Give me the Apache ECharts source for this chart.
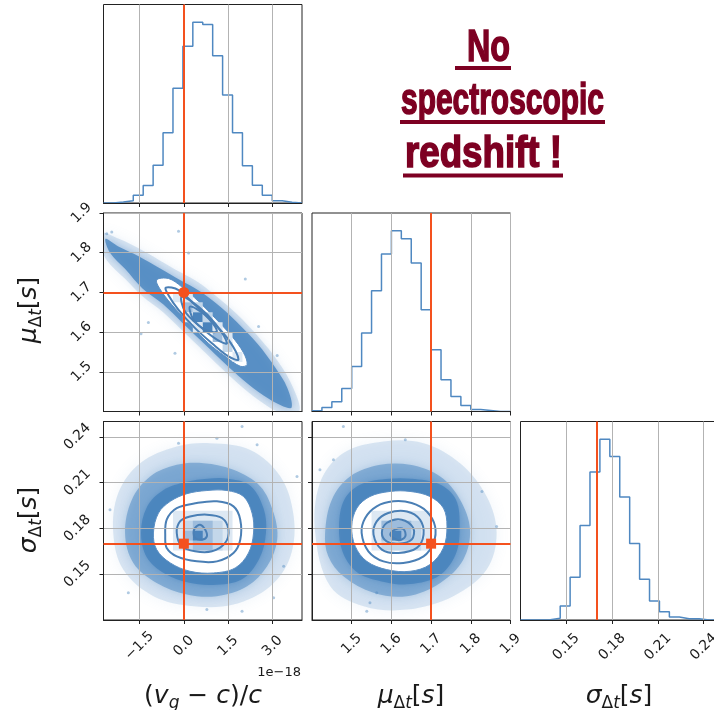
<!DOCTYPE html>
<html>
<head>
<meta charset="utf-8">
<script src="https://cdn.jsdelivr.net/npm/echarts@6/dist/echarts.min.js"></script>
<style>
  html, body { margin: 0; padding: 0; background: #ffffff; }
  #c { width: 714px; height: 710px; }
</style>
</head>
<body>
<div id="c"></div>
<script>
// ---------------- parameter ranges and ticks ----------------
const vRange = [-2.72, 4.0];          // (v_g - c)/c, in units of 1e-18
const muRange = [1.40, 1.90];         // mu_dt [s]
const sigRange = [0.12, 0.25];        // sigma_dt [s]
const vTicks = [-1.5, 0.0, 1.5, 3.0];
const muTicks = [1.5, 1.6, 1.7, 1.8, 1.9];
const sigTicks = [0.15, 0.18, 0.21, 0.24];

// injected (true) values
const truthV = 0.0;
const truthMu = 1.7;
const truthSig = 0.17;

// ---------------- 1D marginal histograms (20 bins each) ----------------
const vEdges = [-2.72, -2.384, -2.048, -1.712, -1.376, -1.04, -0.704, -0.368, -0.032, 0.304,
                0.64, 0.976, 1.312, 1.648, 1.984, 2.32, 2.656, 2.992, 3.328, 3.664, 4.0];
const vCounts = [0, 3, 7, 23, 52, 113, 210, 343, 468, 540, 533, 440, 323, 210, 111, 53, 23, 7, 2, 0];
const vHistTop = 593;

const muEdges = [1.400, 1.425, 1.450, 1.475, 1.500, 1.525, 1.550, 1.575, 1.600, 1.625,
                 1.650, 1.675, 1.700, 1.725, 1.750, 1.775, 1.800, 1.825, 1.850, 1.875, 1.900];
const muCounts = [2, 12, 29, 69, 135, 235, 362, 472, 542, 518, 445, 305, 185, 95, 45, 18, 6, 3, 0, 0];
const muHistTop = 595;

const sigEdges = [0.1200, 0.1265, 0.1330, 0.1395, 0.1460, 0.1525, 0.1590, 0.1655, 0.1720, 0.1785,
                  0.1850, 0.1915, 0.1980, 0.2045, 0.2110, 0.2175, 0.2240, 0.2305, 0.2370, 0.2435, 0.2500];
const sigCounts = [0, 0, 0.5, 5, 42, 128, 283, 444, 542, 490, 369, 229, 122, 57, 25, 9, 4, 4, 0, 0];
const sigHistTop = 595;

// ---------------- 2D panel: v vs mu ----------------
const haloVMu = [[-2.8,1.85],[-2.2,1.835],[-1.5,1.81],[-0.8,1.78],[-0.1,1.75],[0.5,1.725],[1.1,1.69],
  [1.8,1.645],[2.5,1.59],[3.2,1.525],[3.7,1.46],[3.9,1.40],[3.2,1.40],[2.7,1.42],[2.0,1.46],[1.4,1.50],
  [0.7,1.55],[0.0,1.60],[-0.7,1.65],[-1.4,1.69],[-2.0,1.735],[-2.6,1.78],[-2.8,1.815]];
const coreVMu = [[-2.65,1.835],[-2.2,1.815],[-1.5,1.79],[-0.8,1.76],[-0.1,1.73],[0.5,1.705],[1.1,1.672],
  [1.8,1.625],[2.5,1.57],[3.1,1.51],[3.5,1.46],[3.65,1.41],[3.3,1.415],[2.7,1.44],[2.0,1.48],[1.4,1.52],
  [0.7,1.57],[0.0,1.62],[-0.7,1.67],[-1.4,1.71],[-2.0,1.76],[-2.5,1.80]];
const whiteVMu = [[-0.92,1.731],[-0.52,1.735],[-0.07,1.714],[0.5,1.677],[1.06,1.635],[1.63,1.589],
  [2.02,1.548],[2.14,1.518],[1.91,1.514],[1.40,1.539],[0.83,1.572],[0.27,1.614],[-0.30,1.66],[-0.75,1.702]];
const cellsVMu = [ // [v0, v1, mu0, mu1, level]
  [-0.368,-0.032,1.675,1.700,1], [-0.032,0.304,1.675,1.700,1], [-0.032,0.304,1.650,1.675,3],
  [0.304,0.640,1.650,1.675,2], [-0.032,0.304,1.625,1.650,1], [0.304,0.640,1.625,1.650,4],
  [0.640,0.976,1.625,1.650,2], [0.304,0.640,1.600,1.625,1], [0.640,0.976,1.600,1.625,4],
  [0.976,1.312,1.600,1.625,1], [0.976,1.312,1.575,1.600,3], [1.312,1.648,1.575,1.600,1],
  [1.312,1.648,1.550,1.575,2], [1.648,1.984,1.525,1.550,1]];
const contoursVMu = [
  [[-0.61,1.712],[-0.18,1.706],[0.38,1.668],[0.95,1.627],[1.51,1.581],[1.85,1.531],[1.51,1.539],
   [0.95,1.572],[0.38,1.61],[-0.18,1.656],[-0.52,1.693]],
  [[-0.07,1.689],[0.5,1.664],[1.06,1.622],[1.46,1.572],[1.12,1.581],[0.55,1.614],[0.04,1.652]],
  [[0.21,1.664],[0.72,1.643],[1.12,1.602],[0.72,1.606],[0.33,1.631]]];
const strayVMu = [[-2.44,1.852],[-0.18,1.854],[-1.45,1.596],[-0.30,1.547],[0.16,1.799],[2.53,1.614],
  [2.08,1.734],[3.16,1.541],[-1.2,1.624],[-2.61,1.848]];

// ---------------- 2D panel: v vs sigma ----------------
const haloVSig = [[-2.39,0.177],[-2.22,0.2031],[-1.48,0.2227],[-0.24,0.2336],[0.89,0.2358],[2.25,0.2314],
  [3.27,0.214],[3.72,0.1878],[3.61,0.1617],[2.93,0.1421],[1.68,0.1301],[0.33,0.129],[-1.03,0.1356],[-2.05,0.153]];
const coreVSig = [[-1.99,0.177],[-1.76,0.1988],[-1.14,0.214],[-0.24,0.2216],[0.67,0.2227],[1.68,0.2184],
  [2.59,0.2075],[3.04,0.19],[3.16,0.1726],[2.82,0.1552],[2.14,0.1421],[1.12,0.1356],[0.10,0.1367],
  [-0.92,0.1443],[-1.71,0.1574]];
const innerVSig = [[-1.45,0.177],[-1.25,0.194],[-0.7,0.205],[0.1,0.2105],[0.8,0.2125],[1.5,0.2125],
  [2.25,0.208],[2.7,0.193],[2.78,0.177],[2.55,0.16],[1.95,0.1465],[1.0,0.143],[0.15,0.1445],
  [-0.65,0.1505],[-1.25,0.161]];
const whiteVSig = [[-1.03,0.177],[-0.86,0.19],[-0.46,0.1977],[0.10,0.2027],[0.78,0.2048],[1.46,0.2048],
  [2.02,0.2009],[2.31,0.19],[2.36,0.177],[2.19,0.1639],[1.74,0.1541],[1.0,0.1508],[0.21,0.1519],
  [-0.46,0.1574],[-0.92,0.1661]];
const cellsVSig = [
  [-0.368,1.648,0.1655,0.1915,1], [-0.032,1.312,0.1655,0.1850,2],
  [0.304,0.976,0.1655,0.1850,3], [-0.032,0.304,0.1720,0.1785,3], [0.304,0.640,0.1720,0.1785,4]];
const contoursVSig = [
  [[-0.63,0.1748],[-0.58,0.1857],[-0.24,0.1933],[0.44,0.1966],[1.12,0.1977],[1.68,0.1944],[1.91,0.1857],
   [1.91,0.1726],[1.68,0.1639],[1.12,0.1584],[0.44,0.1584],[-0.24,0.1617],[-0.58,0.1672]],
  [[-0.24,0.177],[-0.13,0.1846],[0.21,0.1878],[0.78,0.189],[1.29,0.1868],[1.51,0.1792],[1.40,0.1705],
   [0.95,0.165],[0.38,0.165],[-0.07,0.1682]],
  [[0.33,0.177],[0.38,0.1803],[0.55,0.1824],[0.72,0.1792],[0.78,0.1748],[0.61,0.1726],[0.38,0.1737]]];
const strayVSig = [[-0.18,0.2358],[1.12,0.2391],[1.97,0.2467],[2.48,0.2347],[-1.88,0.1378],[1.97,0.1257],
  [0.78,0.1268],[3.83,0.214],[3.38,0.1552],[-2.5,0.1922],[3.04,0.1345]];

// ---------------- 2D panel: mu vs sigma ----------------
const haloMuSig = [[1.408,0.177],[1.420,0.2097],[1.479,0.2293],[1.580,0.2369],[1.681,0.2358],[1.773,0.2227],
  [1.840,0.2009],[1.865,0.177],[1.840,0.153],[1.756,0.1356],[1.639,0.1268],[1.530,0.129],[1.446,0.1421]];
const coreMuSig = [[1.433,0.177],[1.450,0.1988],[1.496,0.214],[1.572,0.2216],[1.647,0.2216],[1.723,0.214],
  [1.773,0.1988],[1.798,0.1792],[1.781,0.1595],[1.723,0.1443],[1.639,0.1356],[1.555,0.1378],
  [1.479,0.1486],[1.441,0.1617]];
const innerMuSig = [[1.468,0.1813],[1.482,0.199],[1.525,0.209],[1.595,0.2125],[1.65,0.2125],[1.72,0.209],
  [1.762,0.199],[1.772,0.1813],[1.762,0.163],[1.72,0.149],[1.647,0.1435],[1.585,0.1448],[1.515,0.151],
  [1.478,0.164]];
const whiteMuSig = [[1.500,0.1813],[1.513,0.1933],[1.546,0.2009],[1.597,0.2042],[1.647,0.2042],[1.697,0.2009],
  [1.731,0.1933],[1.740,0.1813],[1.731,0.1672],[1.697,0.1563],[1.647,0.1519],[1.588,0.1530],
  [1.538,0.1584],[1.509,0.1682]];
const cellsMuSig = [
  [1.550,1.700,0.1655,0.1915,1], [1.575,1.675,0.1655,0.1850,2],
  [1.575,1.650,0.1720,0.1850,3], [1.600,1.625,0.1720,0.1785,4]];
const contoursMuSig = [
  [[1.525,0.177],[1.534,0.1868],[1.563,0.1944],[1.605,0.1977],[1.651,0.1966],[1.689,0.1911],[1.710,0.1813],
   [1.706,0.1705],[1.681,0.1617],[1.630,0.1574],[1.580,0.1584],[1.542,0.165]],
  [[1.555,0.1759],[1.563,0.1846],[1.592,0.1901],[1.639,0.1911],[1.672,0.1857],[1.681,0.1759],
   [1.664,0.1672],[1.618,0.1639],[1.576,0.1661]],
  [[1.576,0.177],[1.588,0.1835],[1.626,0.1857],[1.655,0.1803],[1.651,0.1726],[1.618,0.170],[1.588,0.1715]],
  [[1.597,0.1759],[1.609,0.1792],[1.630,0.1796],[1.635,0.1748],[1.618,0.1722]]];
const strayMuSig = [[1.479,0.2467],[1.635,0.2380],[1.546,0.1313],[1.538,0.1257],[1.865,0.1813],
  [1.828,0.2042],[1.420,0.2184],[1.563,0.1378],[1.454,0.2249]];

// ---------------- styling ----------------
const INK = '#1a1a1a';
const HIST_BLUE = '#4f88c1';
const CONTOUR_BLUE = '#4a7fb5';
const ORANGE = '#f4511e';
const SHADES = [null, '#dde8f3', '#c3d7ea', '#9dbcdc', '#4a83bc'];
const TICK_FONT = 'DejaVu Sans';

const fmtV = v => (Math.abs(v) < 1e-9 ? 0 : v).toFixed(1).replace('-', '\u2212');
const fmtMu = v => v.toFixed(1);
const fmtSig = v => v.toFixed(2);

// panel layout: 3x3 lower-triangular corner arrangement
const PANEL = 198.5;
const COLS = [103.5, 312, 520.5];
const ROWS = [4.5, 213, 421.5];
function gridAt(r, c) {
  return { left: COLS[c], top: ROWS[r], width: PANEL, height: PANEL, show: true,
           borderColor: '#222', borderWidth: 1, backgroundColor: 'transparent',
           containLabel: false, outerBoundsMode: 'none' };
}
const grids = [gridAt(0,0), gridAt(1,0), gridAt(1,1), gridAt(2,0), gridAt(2,1), gridAt(2,2)];

function tickLabel(show, fmt, margin) {
  return { show: show, formatter: fmt, rotate: 45, align: 'center', verticalAlign: 'middle',
           margin: margin, fontSize: 14, fontFamily: TICK_FONT, color: INK };
}
function valueAxis(g, range, ticks, fmt, showLabels, showGrid, margin) {
  const lbl = tickLabel(showLabels, fmt, margin);
  lbl.customValues = ticks;
  return {
    type: 'value', gridIndex: g, min: range[0], max: range[1], z: 3,
    axisLine: { show: true, onZero: false, lineStyle: { color: '#222', width: 1 } },
    axisTick: { show: true, length: 4, customValues: ticks, lineStyle: { color: '#222', width: 1 } },
    axisLabel: lbl,
    splitLine: { show: showGrid, lineStyle: { color: '#b3b3b3', width: 1 } },
    axisPointer: { show: false }
  };
}
function countAxis(g, top) {
  return { type: 'value', gridIndex: g, min: 0, max: top, show: false, splitLine: { show: false } };
}

const xAxes = [
  valueAxis(0, vRange, vTicks, fmtV, false, true, 26),
  valueAxis(1, vRange, vTicks, fmtV, false, true, 26),
  valueAxis(2, muRange, muTicks, fmtMu, false, true, 26),
  valueAxis(3, vRange, vTicks, fmtV, true, true, 26),
  valueAxis(4, muRange, muTicks, fmtMu, true, true, 24),
  valueAxis(5, sigRange, sigTicks, fmtSig, true, true, 27)
];
const yAxes = [
  countAxis(0, vHistTop),
  valueAxis(1, muRange, muTicks, fmtMu, true, true, 22),
  countAxis(2, muHistTop),
  valueAxis(3, sigRange, sigTicks, fmtSig, true, true, 26),
  valueAxis(4, sigRange, sigTicks, fmtSig, false, true, 26),
  countAxis(5, sigHistTop)
];

// ---------------- series builders ----------------
function histSeries(g, edges, counts) {
  const pts = edges.map((e, i) => [e, counts[Math.min(i, counts.length - 1)]]);
  return { type: 'line', xAxisIndex: g, yAxisIndex: g, data: pts, step: 'end', symbol: 'none',
           silent: true, z: 2, lineStyle: { color: HIST_BLUE, width: 1.5 } };
}
function areaSeries(g, verts, style, smooth) {
  return {
    type: 'custom', xAxisIndex: g, yAxisIndex: g, data: verts, clip: true, silent: true, z: 2,
    renderItem: function (params, api) {
      if (params.dataIndex !== 0) return null;
      const pts = verts.map(p => api.coord(p));
      return { type: 'polygon', shape: { points: pts, smooth: smooth }, style: style };
    }
  };
}
function cellSeries(g, cells) {
  return {
    type: 'custom', xAxisIndex: g, yAxisIndex: g, data: cells, clip: true, silent: true, z: 2,
    encode: { x: [0, 1], y: [2, 3] },
    renderItem: function (params, api) {
      const a = api.coord([api.value(0), api.value(3)]);
      const b = api.coord([api.value(1), api.value(2)]);
      return { type: 'rect', shape: { x: a[0], y: a[1], width: b[0] - a[0], height: b[1] - a[1] },
               style: { fill: SHADES[api.value(4)] } };
    }
  };
}
function contourSeries(g, loops) {
  return loops.map(loop => areaSeries(g, loop, { fill: 'none', stroke: CONTOUR_BLUE, lineWidth: 2 }, 0.35));
}
function straySeries(g, pts) {
  return { type: 'scatter', xAxisIndex: g, yAxisIndex: g, data: pts, symbolSize: 3, silent: true, z: 2,
           itemStyle: { color: 'rgba(74,134,190,0.55)' } };
}
function truthSeries(g, point, symbol, size, vLine, hLine) {
  const lines = [];
  if (vLine !== null) lines.push({ xAxis: vLine });
  if (hLine !== null) lines.push({ yAxis: hLine });
  return {
    type: 'scatter', xAxisIndex: g, yAxisIndex: g, data: point ? [point] : [], symbol: symbol,
    symbolSize: size, silent: true, z: 5, itemStyle: { color: ORANGE, opacity: 1 },
    markLine: { silent: true, symbol: 'none', animation: false, label: { show: false },
                lineStyle: { color: ORANGE, width: 2, type: 'solid', opacity: 1 }, data: lines }
  };
}
// sample cloud: faint outer fringe, dense body, optional denser ring, white interior
function scatterPanel(g, halo, core, coreAlpha, inner, white, cells, loops, stray) {
  const out = [];
  out.push(areaSeries(g, halo, { fill: 'rgba(100,152,206,0.22)', shadowBlur: 14,
                                 shadowColor: 'rgba(100,152,206,0.45)' }, 0.35));
  out.push(areaSeries(g, core, { fill: 'rgba(74,134,192,' + coreAlpha + ')', shadowBlur: 9,
                                 shadowColor: 'rgba(74,134,192,0.55)' }, 0.35));
  if (inner) out.push(areaSeries(g, inner, { fill: 'rgba(70,130,188,0.8)', shadowBlur: 5,
                                             shadowColor: 'rgba(70,130,188,0.6)' }, 0.35));
  out.push(areaSeries(g, white, { fill: '#ffffff', stroke: '#5b8fc4', lineWidth: 1 }, 0.35));
  out.push(cellSeries(g, cells));
  return out.concat(contourSeries(g, loops), [straySeries(g, stray)]);
}

const series = [].concat(
  [histSeries(0, vEdges, vCounts), truthSeries(0, null, 'none', 0, truthV, null)],
  scatterPanel(1, haloVMu, coreVMu, 0.82, null, whiteVMu, cellsVMu, contoursVMu, strayVMu),
  [truthSeries(1, [truthV, truthMu], 'circle', 11, truthV, truthMu)],
  [histSeries(2, muEdges, muCounts), truthSeries(2, null, 'none', 0, truthMu, null)],
  scatterPanel(3, haloVSig, coreVSig, 0.5, innerVSig, whiteVSig, cellsVSig, contoursVSig, strayVSig),
  [truthSeries(3, [truthV, truthSig], 'rect', 10, truthV, truthSig)],
  scatterPanel(4, haloMuSig, coreMuSig, 0.5, innerMuSig, whiteMuSig, cellsMuSig, contoursMuSig, strayMuSig),
  [truthSeries(4, [truthMu, truthSig], 'rect', 10, truthMu, truthSig)],
  [histSeries(5, sigEdges, sigCounts), truthSeries(5, null, 'none', 0, truthSig, null)]
);

// ---------------- text: axis titles, offset, headline ----------------
const MATH = 'DejaVu Sans';
const rich = {
  n: { fontFamily: MATH, fontSize: 25, fill: INK },
  i: { fontFamily: MATH, fontSize: 25, fontStyle: 'italic', fill: INK },
  s: { fontFamily: MATH, fontSize: 17, fontStyle: 'italic', fill: INK, padding: [16, 0, 0, 0] },
  u: { fontFamily: MATH, fontSize: 17, fill: INK, padding: [16, 0, 0, 0] }
};
const vTitle = '{n|(}{i|v}{s|g}{n| \u2212 }{i|c}{n|)/}{i|c}';
const muTitle = '{i|\u03bc}{u|\u0394}{s|t}{n|[}{i|s}{n|]}';
const sigTitle = '{i|\u03c3}{u|\u0394}{s|t}{n|[}{i|s}{n|]}';

function mathText(str, x, y, rot) {
  return { type: 'text', x: x, y: y, rotation: rot || 0, silent: true,
           style: { text: str, rich: rich, align: 'center', verticalAlign: 'middle' } };
}

const HEAD_COLOR = '#7d0022';
const HEAD_SIZE = 45;
const HEAD_FONT = 'bold ' + HEAD_SIZE + 'px "Liberation Sans Narrow", "Liberation Sans", "DejaVu Sans Condensed", sans-serif';
const headLines = [
  { text: 'No',            left: 467, right: 510, base: 63,  ul: [455, 511, 66] },
  { text: 'spectroscopic', left: 401, right: 604, base: 116, ul: [400, 605, 120] },
  { text: 'redshift !',    left: 405, right: 562, base: 169, ul: [403, 563, 173.5] }
];
const measureCtx = document.createElement('canvas').getContext('2d');
function widthScale(text, target) {
  measureCtx.font = HEAD_FONT;
  const w = measureCtx.measureText(text).width;
  return w > 0 ? target / w : 1;
}
const headGraphics = [];
headLines.forEach(l => {
  headGraphics.push({
    type: 'text', x: l.left, y: l.base - 0.31 * HEAD_SIZE, scaleX: widthScale(l.text, l.right - l.left),
    silent: true,
    style: { text: l.text, font: HEAD_FONT, fill: HEAD_COLOR, align: 'left', verticalAlign: 'middle',
             stroke: HEAD_COLOR, lineWidth: 1.6 }
  });
  headGraphics.push({
    type: 'rect', silent: true,
    shape: { x: l.ul[0], y: l.ul[2], width: l.ul[1] - l.ul[0], height: 4 },
    style: { fill: HEAD_COLOR }
  });
});

const graphics = [
  mathText(vTitle, 203, 696),
  mathText(muTitle, 411, 696),
  mathText(sigTitle, 619, 696),
  mathText(muTitle, 29, 310, Math.PI / 2),
  mathText(sigTitle, 29, 520, Math.PI / 2),
  { type: 'text', x: 301, y: 673, silent: true,
    style: { text: '1e\u221218', font: '13px "DejaVu Sans"', fill: INK, align: 'right', verticalAlign: 'middle' } }
].concat(headGraphics);

const chart = echarts.init(document.getElementById('c'), null, { renderer: 'canvas', width: 714, height: 710 });
chart.setOption({
  animation: false,
  backgroundColor: '#ffffff',
  grid: grids,
  xAxis: xAxes,
  yAxis: yAxes,
  series: series,
  graphic: { elements: graphics }
});
</script>
</body>
</html>
